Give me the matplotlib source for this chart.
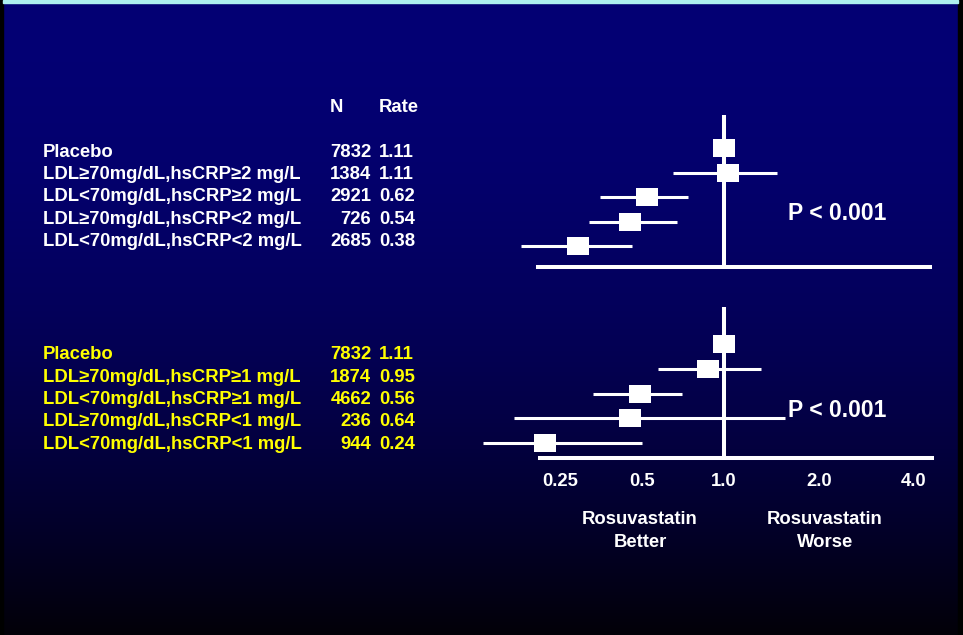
import matplotlib
matplotlib.use("Agg")
import matplotlib.pyplot as plt
import numpy as np
from matplotlib.path import Path
from matplotlib.patches import Rectangle

plt.rcParams['font.family'] = ['Liberation Sans', 'DejaVu Sans']
plt.rcParams['font.weight'] = 'bold'

# --- data -------------------------------------------------------------
upper_labels = ["Placebo",
                "LDL≥70mg/dL,hsCRP≥2 mg/L",
                "LDL<70mg/dL,hsCRP≥2 mg/L",
                "LDL≥70mg/dL,hsCRP<2 mg/L",
                "LDL<70mg/dL,hsCRP<2 mg/L"]
upper_n = [7832, 1384, 2921, 726, 2685]
upper_rate = [1.11, 1.11, 0.62, 0.54, 0.38]
upper_hr = [1.00, 1.03, 0.52, 0.45, 0.29]
upper_lo = [None, 0.65, 0.35, 0.32, 0.18]
upper_hi = [None, 1.47, 0.74, 0.67, 0.46]

lower_labels = ["Placebo",
                "LDL≥70mg/dL,hsCRP≥1 mg/L",
                "LDL<70mg/dL,hsCRP≥1 mg/L",
                "LDL≥70mg/dL,hsCRP<1 mg/L",
                "LDL<70mg/dL,hsCRP<1 mg/L"]
lower_n = [7832, 1874, 4662, 236, 944]
lower_rate = [1.11, 0.95, 0.56, 0.64, 0.24]
lower_hr = [1.00, 0.87, 0.49, 0.45, 0.22]
lower_lo = [None, 0.57, 0.33, 0.17, 0.13]
lower_hi = [None, 1.31, 0.70, 1.56, 0.50]

tick_values = [0.25, 0.5, 1.0, 2.0, 4.0]
tick_labels = ["0.25", "0.5", "1.0", "2.0", "4.0"]
p_text = "P < 0.001"

# --- figure -----------------------------------------------------------
W, H = 963, 635
fig = plt.figure(figsize=(W / 100, H / 100), dpi=100)


def fx(x):
    return x / W


def fy(y):
    return 1 - y / H


# background: navy fading to black
bg = fig.add_axes([0, 0, 1, 1])
bg.set_axis_off()
t = np.linspace(0, 1, 400)[:, None]
top = np.array([4, 0, 116]) / 255
bot = np.array([2, 1, 8]) / 255
grad = top + (bot - top) * t[..., None] ** 2
grad = np.repeat(grad, 2, axis=1)
bg.imshow(grad, aspect='auto', extent=[0, W, H, 0])
bg.set_xlim(0, W)
bg.set_ylim(H, 0)
bg.add_patch(Rectangle((0, 0), 3, H, color='black'))
bg.add_patch(Rectangle((958, 0), 5, H, color='black'))
bg.add_patch(Rectangle((3, 0), 955, 3, color='#aef0f0'))

# odds-ratio axis: separate log scaling on either side of 1.0
left_k, right_k = 82.0, 95.0


def fwd(x):
    x = np.clip(np.asarray(x, float), 1e-6, None)
    l = np.log2(x)
    return np.where(l < 0, l * left_k, l * right_k)


def inv(y):
    y = np.asarray(y, float)
    return np.where(y < 0, 2 ** (y / left_k), 2 ** (y / right_k))


box = Path([(-11, -9), (11, -9), (11, 9), (-11, 9), (-11, -9)],
           [Path.MOVETO, Path.LINETO, Path.LINETO, Path.LINETO, Path.CLOSEPOLY])


def forest(rect_px, ylim, hr, lo, hi, show_ticks):
    x0, y0, x1, y1 = rect_px
    ax = fig.add_axes([fx(x0), fy(y1), fx(x1 - x0), (y1 - y0) / H])
    ax.set_facecolor('none')
    ax.set_xscale('function', functions=(fwd, inv))
    ax.set_xlim(float(inv(x0 - 724)), float(inv(x1 - 724)))
    ax.set_ylim(*ylim)
    for s in ['top', 'left', 'right']:
        ax.spines[s].set_visible(False)
    ax.spines['bottom'].set_color('white')
    ax.spines['bottom'].set_linewidth(2.9)
    ax.axvline(1.0, color='white', lw=2.9, zorder=2)
    rows = np.arange(len(hr))
    for r, l, h in zip(rows, lo, hi):
        if l is not None:
            ax.hlines(r, l, h, color='white', lw=2.2, clip_on=False, zorder=3)
    ax.plot(hr, rows, ls='none', marker=box, ms=15.8, color='white',
            mew=0, clip_on=False, zorder=4)
    ax.tick_params(axis='y', left=False, labelleft=False)
    if show_ticks:
        ax.set_xticks(tick_values, tick_labels)
        ax.tick_params(axis='x', length=0, pad=10.5, labelsize=13.3,
                       labelcolor='white')
    else:
        ax.set_xticks([])
    ax.minorticks_off()
    return ax


forest((538, 115, 930, 267), (4.857, -1.347), upper_hr, upper_lo, upper_hi, False)
forest((540, 307, 932, 458), (4.606, -1.495), lower_hr, lower_lo, lower_hi, True)

# --- text table -------------------------------------------------------
fs = 13.3
fig.text(fx(336), fy(111.7), "N", color='white', fontsize=fs, ha='center', va='baseline')
fig.text(fx(379), fy(111.7), "Rate", color='white', fontsize=fs, ha='left', va='baseline')


def table(labels, ns, rates, base, step, color):
    for i, (lab, n, r) in enumerate(zip(labels, ns, rates)):
        y = fy(base + i * step)
        fig.text(fx(43), y, lab, color=color, fontsize=fs, va='baseline')
        fig.text(fx(371), y, str(n), color=color, fontsize=fs, ha='right', va='baseline')
        fig.text(fx(379), y, f"{r:.2f}", color=color, fontsize=fs, ha='left', va='baseline')


table(upper_labels, upper_n, upper_rate, 156.7, 22.3, 'white')
table(lower_labels, lower_n, lower_rate, 359.3, 22.4, '#ffff00')

fig.text(fx(788), fy(220), p_text, color='white', fontsize=16.5, va='baseline')
fig.text(fx(788), fy(416.7), p_text, color='white', fontsize=16.5, va='baseline')

fig.text(fx(640), fy(524), "Rosuvastatin", color='white', fontsize=fs, ha='center', va='baseline')
fig.text(fx(640), fy(546.7), "Better", color='white', fontsize=fs, ha='center', va='baseline')
fig.text(fx(825), fy(524), "Rosuvastatin", color='white', fontsize=fs, ha='center', va='baseline')
fig.text(fx(825), fy(546.7), "Worse", color='white', fontsize=fs, ha='center', va='baseline')

fig.savefig("out.png", dpi=100)
